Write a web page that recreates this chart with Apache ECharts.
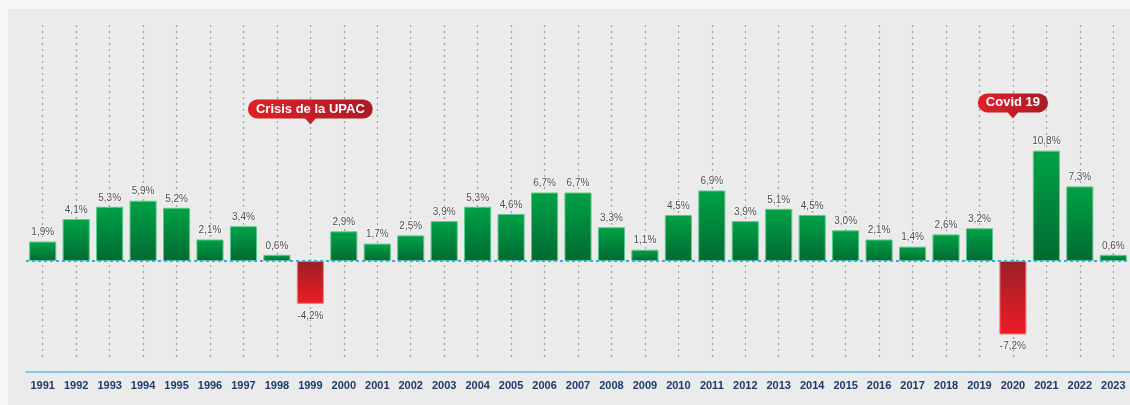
<!DOCTYPE html>
<html>
<head>
<meta charset="utf-8">
<script src="https://cdn.jsdelivr.net/npm/echarts@6/dist/echarts.min.js"></script>
<style>
  html, body { margin: 0; padding: 0; background: #f8f8f8; }
  #chart { position: absolute; left: 8px; top: 9px; width: 1122px; height: 396px; background: #ebebeb; }
</style>
</head>
<body>
<div id="chart"></div>
<script>
var years = ['1991','1992','1993','1994','1995','1996','1997','1998','1999','2000','2001','2002','2003','2004','2005','2006','2007','2008','2009','2010','2011','2012','2013','2014','2015','2016','2017','2018','2019','2020','2021','2022','2023'];
var growth = [1.9,4.1,5.3,5.9,5.2,2.1,3.4,0.6,-4.2,2.9,1.7,2.5,3.9,5.3,4.6,6.7,6.7,3.3,1.1,4.5,6.9,3.9,5.1,4.5,3.0,2.1,1.4,2.6,3.2,-7.2,10.8,7.3,0.6];
var noteYears = ['1999','2020'];
var noteTexts = ['Crisis de la UPAC','Covid 19'];
var noteLevels = [13.7, 14.3];

var chart = echarts.init(document.getElementById('chart'));

var green = new echarts.graphic.LinearGradient(0, 0, 0, 1, [
    {offset: 0, color: '#00a247'},
    {offset: 1, color: '#006a31'}
]);
var red = new echarts.graphic.LinearGradient(0, 0, 0, 1, [
    {offset: 0, color: '#9b1f28'},
    {offset: 1, color: '#ee1c25'}
]);

var barData = [];
for (var i = 0; i < growth.length; i++) {
    var v = growth[i];
    barData.push({
        value: v,
        itemStyle: {
            color: v < 0 ? red : green,
            borderColor: v < 0 ? '#e8848a' : '#5cc98a',
            borderWidth: 1
        },
        label: {position: v < 0 ? 'bottom' : 'top', distance: v < 0 ? 7 : 4}
    });
}

var notes = [];
for (var j = 0; j < noteYears.length; j++) {
    notes.push({coord: [noteYears[j], noteLevels[j]], value: noteTexts[j]});
}

var option = {
    animation: false,
    grid: {left: 18, right: 0, top: 16, bottom: 47},
    xAxis: {
        type: 'category',
        data: years,
        offset: 14,
        axisLine: {onZero: false, lineStyle: {color: '#5bbfea', width: 1.5}},
        axisTick: {show: false},
        axisLabel: {
            color: '#1d3a6c',
            fontFamily: 'Liberation Sans, Arial',
            fontWeight: 'bold',
            fontSize: 11,
            margin: 8,
            interval: 0
        },
        splitLine: {
            show: true,
            alignWithLabel: true,
            lineStyle: {color: '#9c9c9c', type: [2, 4], width: 1.2}
        }
    },
    yAxis: {
        type: 'value',
        min: -9.5,
        max: 23.1,
        show: false,
        splitLine: {show: false}
    },
    series: [{
        type: 'bar',
        data: barData,
        barCategoryGap: '19%',
        label: {
            show: true,
            fontFamily: 'Liberation Sans, Arial',
            fontSize: 10,
            color: '#4a4a4a',
            textBorderColor: 'rgba(255,255,255,0.7)',
            textBorderWidth: 1.5,
            formatter: function (p) {
                return p.value.toFixed(1).replace('.', ',') + '%';
            }
        },
        markLine: {
            silent: true,
            symbol: 'none',
            label: {show: false},
            lineStyle: {color: '#3fa9dd', type: [3, 3], width: 2},
            data: [{yAxis: 0}]
        },
        markPoint: {
            silent: true,
            symbol: 'triangle',
            symbolRotate: 180,
            symbolSize: [12, 7],
            itemStyle: {color: '#c4202a'},
            label: {
                show: true,
                position: 'top',
                distance: -1,
                formatter: '{c}',
                color: '#fff',
                fontFamily: 'Liberation Sans, Arial',
                fontWeight: 'bold',
                fontSize: 13,
                padding: [3, 8, 3, 8],
                borderRadius: 10,
                backgroundColor: new echarts.graphic.LinearGradient(0, 0, 1, 0, [
                    {offset: 0, color: '#e21f28'},
                    {offset: 1, color: '#a81d26'}
                ])
            },
            data: notes
        }
    }]
};

chart.setOption(option);
</script>
</body>
</html>
